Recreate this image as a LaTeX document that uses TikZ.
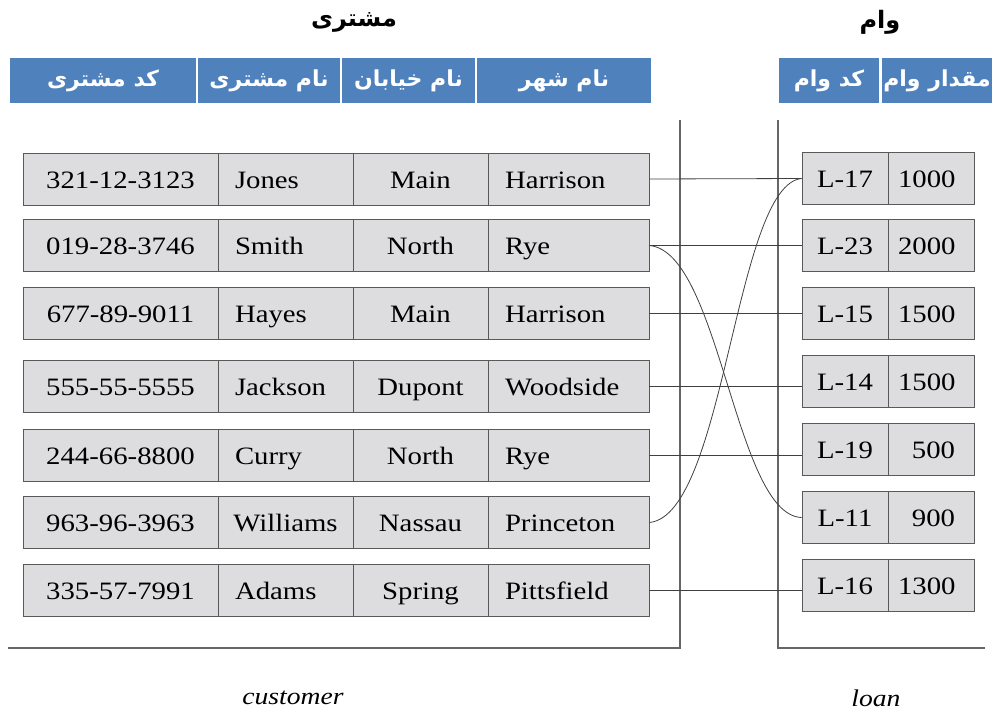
\documentclass[tikz,border=0pt]{standalone}
\usepackage{fontspec}
\setmainfont{Liberation Serif}[FakeStretch=1.15]
\newfontfamily\farsi[Script=Arabic]{DejaVu Sans}
\TeXXeTstate=1
\definecolor{headblue}{RGB}{79,129,189}
\definecolor{cellgray}{RGB}{221,221,223}
\tikzset{
  cell/.style={draw=black!65, fill=cellgray, line width=0.9pt, minimum height=52pt, inner sep=0pt,
    text height=20pt, text depth=2pt, font=\fontsize{25}{30}\selectfont},
  lcell/.style={cell, align=left, inner xsep=17pt},
  amt/.style={cell, text width=66pt, align=right, inner xsep=10pt, execute at end node=\kern9pt},
  head/.style={fill=headblue, text=white, minimum height=45pt, inner sep=0pt,
    font=\farsi\bfseries\fontsize{22}{27}\selectfont},
  title/.style={font=\farsi\bfseries\fontsize{24}{28}\selectfont},
  frame/.style={draw=black!60, line width=1.1pt},
  link/.style={draw=black!75, line width=0.8pt}
}

\begin{document}
\begin{tikzpicture}[x=1pt, y=-1pt]
\useasboundingbox (0,0) rectangle (997,715);
%titles
\node[title] (tcust) at (354,22) {\beginR مشتری\endR};
\node[title] (tloan) at (880,22) {\beginR وام\endR};
%headers customer
\node[head, minimum width=186pt] (h1) at (103,80.5) {\beginR کد مشتری\endR};
\node[head, minimum width=142pt] (h2) at (269,80.5) {\beginR نام مشتری\endR};
\node[head, minimum width=133pt] (h3) at (408.5,80.5) {\beginR نام خیابان\endR};
\node[head, minimum width=174pt] (h4) at (564,80.5) {\beginR نام شهر\endR};
%headers loan
\node[head, minimum width=100pt] (h5) at (829,80.5) {\beginR کد وام\endR};
\node[head, minimum width=110pt] (h6) at (937,80.5) {\beginR مقدار وام\endR};
%frames
\draw[frame] (680,120) -- (680,648) -- (8,648);
\draw[frame] (778,120) -- (778,648) -- (985,648);
%customer rows
\node[cell, minimum width=195pt] (id1) at (120.5,179) {321-12-3123};
\node[lcell, text width=101pt] (nm1) at (285.5,179) {Jones};
\node[cell, minimum width=135pt] (st1) at (420.5,179) {Main};
\node[lcell, text width=127pt] (ct1) at (568.5,179) {Harrison};
\node[cell, minimum width=195pt] (id2) at (120.5,245.5) {019-28-3746};
\node[lcell, text width=101pt] (nm2) at (285.5,245.5) {Smith};
\node[cell, minimum width=135pt] (st2) at (420.5,245.5) {North};
\node[lcell, text width=127pt] (ct2) at (568.5,245.5) {Rye};
\node[cell, minimum width=195pt] (id3) at (120.5,313.5) {677-89-9011};
\node[lcell, text width=101pt] (nm3) at (285.5,313.5) {Hayes};
\node[cell, minimum width=135pt] (st3) at (420.5,313.5) {Main};
\node[lcell, text width=127pt] (ct3) at (568.5,313.5) {Harrison};
\node[cell, minimum width=195pt] (id4) at (120.5,386) {555-55-5555};
\node[lcell, text width=101pt] (nm4) at (285.5,386) {Jackson};
\node[cell, minimum width=135pt] (st4) at (420.5,386) {Dupont};
\node[lcell, text width=127pt] (ct4) at (568.5,386) {Woodside};
\node[cell, minimum width=195pt] (id5) at (120.5,455.5) {244-66-8800};
\node[lcell, text width=101pt] (nm5) at (285.5,455.5) {Curry};
\node[cell, minimum width=135pt] (st5) at (420.5,455.5) {North};
\node[lcell, text width=127pt] (ct5) at (568.5,455.5) {Rye};
\node[cell, minimum width=195pt] (id6) at (120.5,522.5) {963-96-3963};
\node[cell, minimum width=135pt] (nm6) at (285.5,522.5) {Williams};
\node[cell, minimum width=135pt] (st6) at (420.5,522.5) {Nassau};
\node[lcell, text width=127pt] (ct6) at (568.5,522.5) {Princeton};
\node[cell, minimum width=195pt] (id7) at (120.5,590) {335-57-7991};
\node[lcell, text width=101pt] (nm7) at (285.5,590) {Adams};
\node[cell, minimum width=135pt] (st7) at (420.5,590) {Spring};
\node[lcell, text width=127pt] (ct7) at (568.5,590) {Pittsfield};
%loan rows
\node[cell, minimum width=86pt] (ln1) at (845,178.5) {L-17};
\node[amt] (am1) at (931,178.5) {1000};
\node[cell, minimum width=86pt] (ln2) at (845,245.5) {L-23};
\node[amt] (am2) at (931,245.5) {2000};
\node[cell, minimum width=86pt] (ln3) at (845,313.5) {L-15};
\node[amt] (am3) at (931,313.5) {1500};
\node[cell, minimum width=86pt] (ln4) at (845,381.5) {L-14};
\node[amt] (am4) at (931,381.5) {1500};
\node[cell, minimum width=86pt] (ln5) at (845,449.5) {L-19};
\node[amt] (am5) at (931,449.5) {500};
\node[cell, minimum width=86pt] (ln6) at (845,517.5) {L-11};
\node[amt] (am6) at (931,517.5) {900};
\node[cell, minimum width=86pt] (ln7) at (845,585.5) {L-16};
\node[amt] (am7) at (931,585.5) {1300};
%links
\draw[link] (ct1.east) -- (ln1.west);
\draw[link] (ct2.east) -- (ln2.west);
\draw[link] (ct3.east) -- (ln3.west);
\draw[link] (ct4.east) -- (ct4.east -| ln4.west);
\draw[link] (ct5.east) -- (ct5.east -| ln5.west);
\draw[link] (ct7.east) -- (ct7.east -| ln7.west);
\draw[link] (ct2.east) .. controls (720,252) and (735,515) .. (ln6.west);
\draw[link] (ct6.east) .. controls (725,515) and (735,185) .. (ln1.west);
%names
\node[font=\itshape\fontsize{24}{28}\selectfont] (ncust) at (293,698) {customer};
\node[font=\itshape\fontsize{24}{28}\selectfont] (nloan) at (876,698) {loan};
\end{tikzpicture}
\end{document}
